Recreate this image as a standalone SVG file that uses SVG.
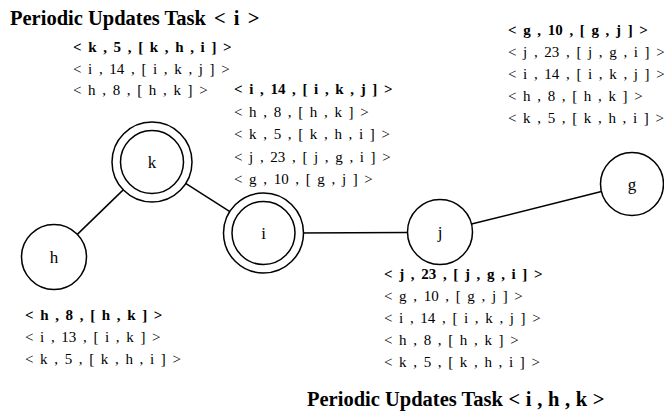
<svg xmlns="http://www.w3.org/2000/svg" width="664" height="418" viewBox="0 0 664 418">
<style>
  .bg{fill:#fff}
  .c{fill:#fff;stroke:#000;stroke-width:1.5}
  .e{stroke:#000;stroke-width:1.5;fill:none}
  .lbl{font-family:"Liberation Serif","Times New Roman",serif;font-size:17px;fill:#000;text-anchor:middle}
  .row{font-family:"Liberation Serif","Times New Roman",serif;font-size:15px;fill:#000;word-spacing:2.9px}
  .b{font-weight:bold}
  .title{font-family:"Liberation Serif","Times New Roman",serif;font-size:20.5px;font-weight:bold;fill:#000}
  .tup{word-spacing:3px}
  .tup2{word-spacing:0.5px}
</style>
<rect class="bg" x="0" y="0" width="664" height="418"/>
<g id="connectors">
  <line class="e" x1="77.3" y1="234.4" x2="129.4" y2="183.9"/>
  <line class="e" x1="178.6" y1="178.9" x2="236.9" y2="216.1"/>
  <line class="e" x1="295" y1="233" x2="407.5" y2="232.5"/>
  <line class="e" x1="471.5" y1="224.1" x2="601.4" y2="191.6"/>
</g>
<g id="node-h">
  <circle class="c" cx="54" cy="257" r="32.5"/>
  <text class="lbl" x="54" y="263">h</text>
</g>
<g id="node-k">
  <circle class="c" cx="152" cy="162" r="40"/>
  <circle class="c" cx="152" cy="162" r="31.5"/>
  <text class="lbl" x="152" y="168">k</text>
</g>
<g id="node-i">
  <circle class="c" cx="263.5" cy="233" r="40"/>
  <circle class="c" cx="263.5" cy="233" r="31.5"/>
  <text class="lbl" x="263.5" y="239">i</text>
</g>
<g id="node-j">
  <circle class="c" cx="440" cy="232" r="32.5"/>
  <text class="lbl" x="440" y="238">j</text>
</g>
<g id="node-g">
  <circle class="c" cx="632" cy="184" r="31.5"/>
  <text class="lbl" x="632" y="190">g</text>
</g>
<g id="title-i">
  <text class="title" x="10" y="25">Periodic Updates Task<tspan class="tup"> &lt; i &gt;</tspan></text>
</g>
<g id="table-k">
  <text class="row b" x="73" y="52">&lt; k , 5 , [ k , h , i ] &gt;</text>
  <text class="row" x="73" y="73.5">&lt; i , 14 , [ i , k , j ] &gt;</text>
  <text class="row" x="73" y="95">&lt; h , 8 , [ h , k ] &gt;</text>
</g>
<g id="table-i">
  <text class="row b" x="234" y="94">&lt; i , 14 , [ i , k , j ] &gt;</text>
  <text class="row" x="234" y="116.5">&lt; h , 8 , [ h , k ] &gt;</text>
  <text class="row" x="234" y="139">&lt; k , 5 , [ k , h , i ] &gt;</text>
  <text class="row" x="234" y="161.5">&lt; j , 23 , [ j , g , i ] &gt;</text>
  <text class="row" x="234" y="184">&lt; g , 10 , [ g , j ] &gt;</text>
</g>
<g id="table-g">
  <text class="row b" x="508" y="35">&lt; g , 10 , [ g , j ] &gt;</text>
  <text class="row" x="508" y="57">&lt; j , 23 , [ j , g , i ] &gt;</text>
  <text class="row" x="508" y="79">&lt; i , 14 , [ i , k , j ] &gt;</text>
  <text class="row" x="508" y="101">&lt; h , 8 , [ h , k ] &gt;</text>
  <text class="row" x="508" y="123">&lt; k , 5 , [ k , h , i ] &gt;</text>
</g>
<g id="table-h">
  <text class="row b" x="25" y="320">&lt; h , 8 , [ h , k ] &gt;</text>
  <text class="row" x="25" y="342">&lt; i , 13 , [ i , k ] &gt;</text>
  <text class="row" x="25" y="364">&lt; k , 5 , [ k , h , i ] &gt;</text>
</g>
<g id="table-j">
  <text class="row b" x="384" y="279">&lt; j , 23 , [ j , g , i ] &gt;</text>
  <text class="row" x="384" y="301">&lt; g , 10 , [ g , j ] &gt;</text>
  <text class="row" x="384" y="323">&lt; i , 14 , [ i , k , j ] &gt;</text>
  <text class="row" x="384" y="345">&lt; h , 8 , [ h , k ] &gt;</text>
  <text class="row" x="384" y="367">&lt; k , 5 , [ k , h , i ] &gt;</text>
</g>
<g id="title-ihk">
  <text class="title" x="307" y="406">Periodic Updates Task<tspan class="tup2"> &lt; i , h , k &gt;</tspan></text>
</g>
</svg>
